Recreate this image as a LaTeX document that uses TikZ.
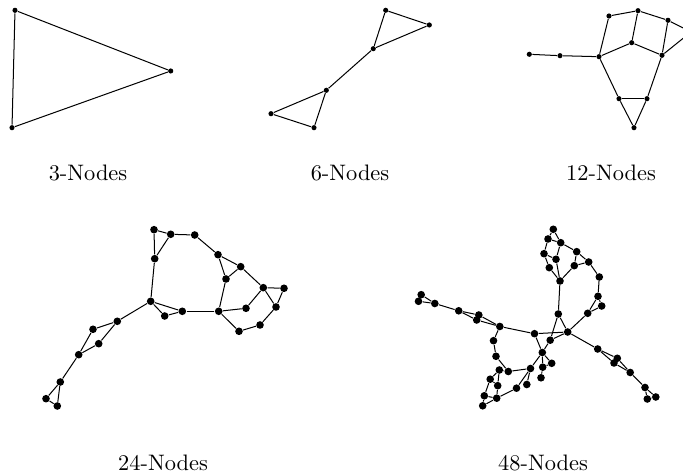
\documentclass[tikz,border=0pt]{standalone}
\usepackage{tikz}
\usetikzlibrary{positioning}

\tikzset{
  vtx/.style={circle,fill=black,inner sep=0pt,minimum size=2.3pt},
  bigvtx/.style={circle,fill=black,inner sep=0pt,minimum size=3.4pt},
  edge/.style={line width=0.45pt}
}

\begin{document}
\begin{tikzpicture}[x=0.0157cm,y=-0.0157cm]
  \useasboundingbox (0,0) rectangle (683,475);

  % 3 nodes
  \foreach \n/\x/\y in {1/15/10.3, 2/170.7/71, 3/12/127.7}
    \node[vtx] (a\n) at (\x,\y) {};
  \foreach \u/\v in {1/2,2/3,3/1}
    \draw[edge] (a\u) -- (a\v);
  \node (capA) at (88,172.5) {3-Nodes};

  % 6 nodes
  \foreach \n/\x/\y in {1/385.7/10.3, 2/429.3/25, 3/373.3/48.7,
                        4/326.3/90.3, 5/271/113.7, 6/314/127.7}
    \node[vtx] (b\n) at (\x,\y) {};
  \foreach \u/\v in {1/2,1/3,2/3,3/4,4/5,4/6,5/6}
    \draw[edge] (b\u) -- (b\v);
  \node (capB) at (350,172.5) {6-Nodes};

  % 12 nodes
  \foreach \n/\x/\y in {1/529.3/54.3, 2/560/55.7, 3/599/56.7, 4/609/16,
                        5/638/10.7, 6/668/20.3, 7/631.7/42.7, 8/662/55.3,
                        9/619/98.7, 10/647/98.7, 11/634/127.7, 12/691/32}
    \node[vtx] (c\n) at (\x,\y) {};
  \foreach \u/\v in {1/2,2/3,3/4,4/5,5/6,3/7,7/5,7/8,6/8,6/12,8/12,
                     3/9,8/10,9/10,9/11,10/11}
    \draw[edge] (c\u) -- (c\v);
  \node (capC) at (611,172.5) {12-Nodes};

  % 24 nodes
  \foreach \n/\x/\y in {1/154/229.7, 2/170.7/234.3, 3/194.7/235, 4/154.7/258.7,
                        5/218/254.7, 6/240.7/266.7, 7/226/279, 8/263.3/287.7,
                        9/284/288.3, 10/276/307, 11/246/308.3, 12/260/325,
                        13/239/331.3, 14/218.7/311.3, 15/182.3/311.3, 16/164.7/316,
                        17/150.7/301.3, 18/117.3/321.3, 19/93/329.3, 20/98.7/343.7,
                        21/78.7/354.7, 22/60.3/382, 23/46/398.7, 24/57.3/406}
    \node[bigvtx] (d\n) at (\x,\y) {};
  \foreach \u/\v in {1/2,1/4,2/4,2/3,3/5,5/6,5/7,6/7,6/8,8/9,9/10,8/10,8/11,
                     11/14,10/12,12/13,13/14,7/14,14/15,15/16,16/17,15/17,4/17,
                     17/18,18/19,18/20,19/21,20/21,21/22,22/23,22/24,23/24}
    \draw[edge] (d\u) -- (d\v);
  \node (capD) at (163,463) {24-Nodes};

  % 48 nodes
  \foreach \n/\x/\y in {1/553.3/229.3, 2/548/239, 3/560.7/242.7, 4/544/253.7,
                        5/556/259.3, 6/549.3/267.7, 7/576.7/251.7, 8/588.7/262,
                        9/574.3/265.7, 10/560/281, 11/599.3/277, 12/598/296.3,
                        13/601.7/306, 14/587.7/313.3, 15/567.7/332, 16/558.3/314,
                        17/550.2/340.2, 18/534.5/333.7, 19/542.3/352.5, 20/551.7/363.3,
                        21/542.7/367.2, 22/541/377.8, 23/530.5/368.5, 24/526.8/384.5,
                        25/516.5/388.2, 26/508.3/371.5, 27/499.3/370, 28/490.2/379.2,
                        29/497.7/385.7, 30/484.3/395.8, 31/496.7/398.2, 32/482.7/405.8,
                        33/496/356.3, 34/493.5/340.7, 35/499.8/326.5, 36/476.7/320,
                        37/478.8/315, 38/458.7/310.8, 39/434.8/303.5, 40/421.2/294.7,
                        41/418.5/301.3, 42/597.7/349, 43/617.3/358.3, 44/614/363,
                        45/630.2/372.5, 46/645/387.5, 47/647.3/399, 48/655.8/397}
    \node[bigvtx] (e\n) at (\x,\y) {};
  \foreach \u/\v in {1/2,1/3,2/3,2/4,3/5,4/5,4/6,5/10,6/10,3/7,7/8,7/9,8/9,9/10,
                     8/11,11/12,12/13,12/14,13/14,14/15,10/16,16/15,16/17,17/15,
                     18/15,18/35,18/19,17/19,19/20,19/21,20/21,21/22,19/23,23/26,
                     23/24,23/25,25/31,26/33,33/34,34/35,26/27,27/28,27/29,28/29,
                     28/30,29/31,30/31,30/32,31/32,35/36,35/37,36/37,36/38,37/38,
                     38/39,39/40,39/41,40/41,15/42,42/43,42/44,43/44,43/45,44/45,
                     45/46,46/47,46/48,47/48}
    \draw[edge] (e\u) -- (e\v);
  \node (capE) at (543,463) {48-Nodes};
\end{tikzpicture}
\end{document}
